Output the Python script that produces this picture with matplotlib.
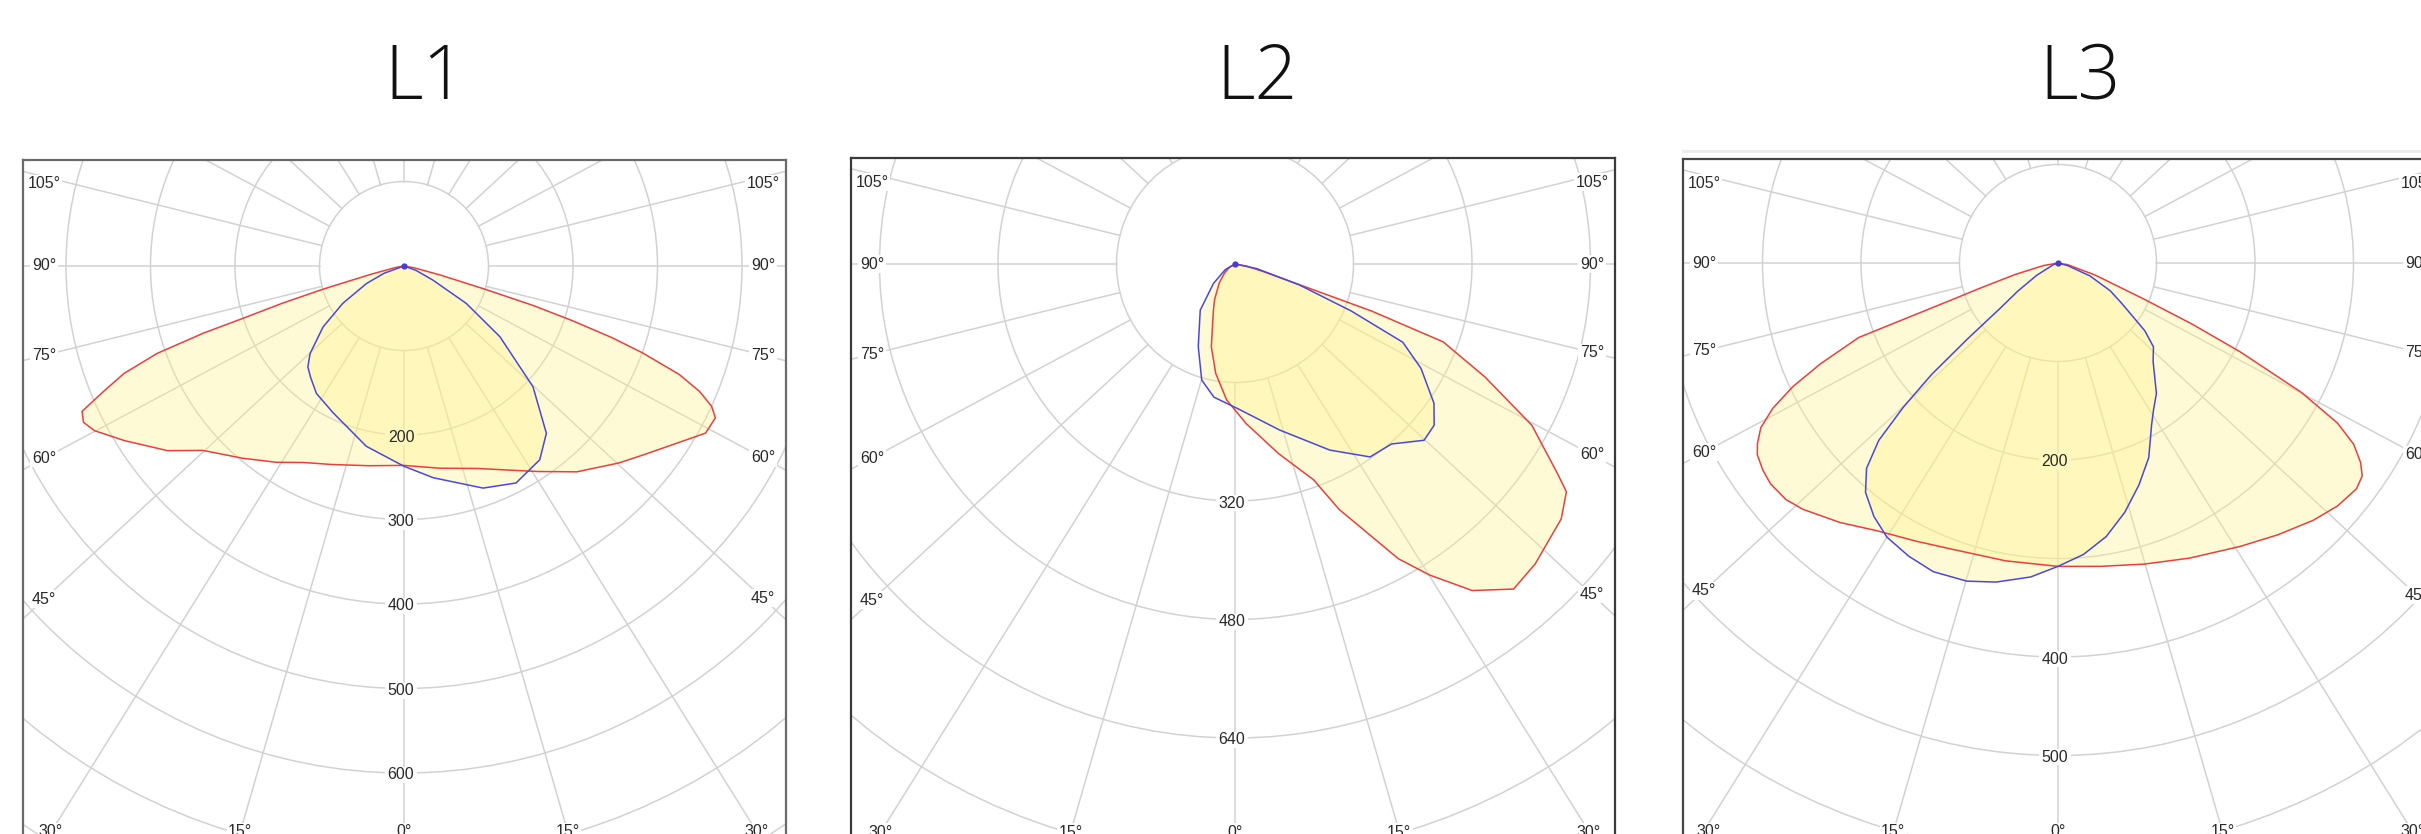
import numpy as np
import matplotlib.pyplot as plt
from matplotlib.patches import Circle, Rectangle
from matplotlib.lines import Line2D

# ---- data (angles in degrees from nadir, negative = left half; values in cd/klm) ----
titles = ['L1', 'L2', 'L3']

l1_red_ang = [-90, -80, -76, -74, -73, -72, -71.5, -70.5, -69, -67.2, -65.7, -64, -62, -58, -52,
              -47.5, -40, -33, -27, -20, -10, 0, 10, 20, 27, 33, 40, 47.5, 52, 57, 61, 64, 65.5,
              67, 68.5, 70, 71, 72, 73, 74, 76, 80, 90]
l1_red_val = [0, 10, 40, 100, 150, 200, 250, 310, 355, 388, 418, 422, 415, 390, 355,
              323, 297, 277, 261, 250, 240, 236, 243, 255, 271, 290, 318, 345, 362, 385, 408, 410, 400,
              380, 350, 300, 260, 210, 160, 100, 45, 12, 0]
l1_blue_ang = [-90, -70, -65, -58.6, -53, -47, -43.6, -40, -34.5, -25.7, -11.8, 0, 7.9, 19.6, 27.3,
               35, 40.4, 46.9, 53.6, 59, 64, 70, 90]
l1_blue_val = [0, 25, 49, 85, 120, 152, 165, 172, 183, 193, 218, 237, 253, 279, 289,
               280, 260, 209, 141, 86, 38, 15, 0]

l2_red_ang = [-90, -60, -50, -40, -30, -25, -16, -10, -3.5, 4, 13, 20, 23, 29, 32, 36, 40.6, 45,
              52, 55.5, 57, 61.5, 65.7, 69.5, 71, 72.2, 75, 80, 90]
l2_red_val = [0, 8, 18, 33, 55, 69, 116, 150, 184, 216, 263, 310, 360, 455, 495, 545, 578, 573,
              559, 543, 519, 456, 370, 300, 195, 92, 40, 15, 0]
l2_blue_ang = [-90, -60, -48, -37, -24, -16, -9, 2, 15, 27, 35, 41, 47, 51, 55, 60.7, 65, 68, 72, 78, 90]
l2_blue_val = [0, 15, 39, 78, 122, 163, 182, 197, 232, 282, 318, 322, 349, 346, 328, 288, 250, 169, 91, 30, 0]

l3_red_ang = [-90, -80, -75, -72, -71, -69.5, -67, -65, -63, -61, -59, -57.5, -55, -52.5, -49, -46,
              -40, -34, -27, -20.5, -10, 0, 8, 16, 24, 32.7, 39, 44.8, 49, 52.9, 55, 56.6, 58.5,
              60.2, 62, 64, 65.5, 67.2, 72, 80, 90]
l3_red_val = [0, 15, 45, 85, 110, 216, 262, 297, 325, 345, 356, 362, 366, 368, 366, 360,
              344, 328, 317, 310, 307, 308, 311, 318, 328, 342, 355, 368, 376, 380, 377, 368, 352,
              327, 280, 206, 150, 95, 40, 10, 0]
l3_blue_ang = [-90, -70, -60, -55, -52, -50, -48.6, -47, -45.3, -43, -40, -36, -32, -27, -22, -16,
               -11, -5, 0, 5, 10, 15, 20, 25, 30, 33, 37, 40, 44, 48.7, 52, 55, 58, 62, 68, 75, 90]
l3_blue_val = [0, 5, 25, 50, 74, 120, 171, 215, 256, 285, 304, 318, 328, 334, 338, 336,
               330, 320, 308, 297, 282, 262, 240, 218, 190, 178, 166, 153, 139, 129, 112, 90, 75,
               60, 35, 10, 0]

l1_rings = [100, 200, 300, 400, 500, 600, 700, 800, 900]
l1_ring_labels = [200, 300, 400, 500, 600]
l2_rings = [160, 320, 480, 640, 800, 960]
l2_ring_labels = [320, 480, 640]
l3_rings = [100, 200, 300, 400, 500, 600, 700, 800]
l3_ring_labels = [200, 400, 500]

side_angles = [105, 90, 75, 60, 45]
bottom_angles = [-30, -15, 0, 15, 30]

# ---- figure layout (pixels) ----
W, H = 2421, 834
fig = plt.figure(figsize=(W / 100, H / 100), dpi=100)

GRID = '#d2d2d2'
FILL = '#fff38a'
RED = '#e8403c'
BLUE = '#4a48dc'
STRETCH = 1.08  # the angle rays of the source diagram are slightly widened


def ray_dir(g):
    t = np.radians(g)
    d = np.array([STRETCH * np.sin(t), -np.cos(t)])
    return d / np.hypot(*d)


def draw_panel(box, center, k, rings, ring_labels, red, blue, edge_color):
    x0, y0, x1, y1 = box
    cx, cy = center
    ax = fig.add_axes([x0 / W, 1 - y1 / H, (x1 - x0) / W, (y1 - y0) / H])
    ax.set_xlim((x0 - cx) / k, (x1 - cx) / k)
    ax.set_ylim((cy - y1) / k, (cy - y0) / k)
    ax.set_xticks([])
    ax.set_yticks([])
    for sp in ax.spines.values():
        sp.set_color(edge_color)
        sp.set_linewidth(1.6)

    # grid
    for v in rings:
        ax.add_patch(Circle((0, 0), v, fill=False, ec=GRID, lw=1.1, zorder=1))
    r1 = rings[0]
    for g in range(0, 360, 15):
        d = ray_dir(g)
        ax.plot([r1 * d[0], 4000 * d[0]], [r1 * d[1], 4000 * d[1]], color=GRID, lw=1.1, zorder=1)

    # ring values: gap in the grid behind each, text on top of the fill
    for v in ring_labels:
        lx, ly = -3 / k, -v - 2 / k
        ax.add_patch(Rectangle((lx - 16 / k, ly - 8 / k), 32 / k, 16 / k,
                               fc='white', ec='none', zorder=2))
        ax.text(lx, ly, str(v), ha='center', va='center', fontsize=11.5,
                family='Liberation Sans', color='#2a2a2a', zorder=6)

    # curves
    for (ang, val), col in ((red, RED), (blue, BLUE)):
        th = np.radians(ang)
        xs = np.asarray(val) * np.sin(th)
        ys = -np.asarray(val) * np.cos(th)
        ax.fill(xs, ys, color=FILL, alpha=0.35, lw=0, zorder=3)
        ax.plot(xs, ys, color=col, lw=1.1, zorder=4)
    ax.plot(0, 0, marker='o', ms=3.5, color='#4a3ad0', zorder=5)

    # angle labels on the frame
    xl, xr = (x0 - cx + 21) / k, (x1 - cx - 23) / k
    ytop = (cy - y0 - 24) / k
    for g in side_angles:
        for xe in (xl, xr):
            ye = -abs(xe) * (np.cos(np.radians(g)) / (STRETCH * np.sin(np.radians(g))))
            ye = min(ye, ytop)
            ax.text(xe, ye, f'{g}°', ha='center', va='center', fontsize=11.5,
                    family='Liberation Sans', color='#2a2a2a', zorder=6,
                    bbox=dict(facecolor='white', edgecolor='none', pad=1))
    yb = (cy - y1 + 23) / k
    for g in bottom_angles:
        t = np.radians(g)
        xe = -yb * STRETCH * np.sin(t) / np.cos(t)
        xe = min(max(xe, (x0 - cx + 26) / k), (x1 - cx - 26) / k)
        ax.text(xe, yb, f'{abs(g)}°', ha='center', va='center', fontsize=11.5,
                family='Liberation Sans', color='#2a2a2a', zorder=6,
                bbox=dict(facecolor='white', edgecolor='none', pad=1))
    return ax


draw_panel((23, 160, 786, 855), (404, 266), 0.845, l1_rings, l1_ring_labels,
           (l1_red_ang, l1_red_val), (l1_blue_ang, l1_blue_val), '#6a6a6a')
draw_panel((851, 158, 1615, 855), (1235, 264), 118.5 / 160, l2_rings, l2_ring_labels,
           (l2_red_ang, l2_red_val), (l2_blue_ang, l2_blue_val), '#3a3a3a')
draw_panel((1683, 159, 2440, 855), (2058, 263), 0.985, l3_rings, l3_ring_labels,
           (l3_red_ang, l3_red_val), (l3_blue_ang, l3_blue_val), '#454545')

# faint line above the third frame (as in the source screenshot)
fig.add_artist(Line2D([1683 / W, 1.0], [1 - 151 / H, 1 - 151 / H], color='#ebebeb', lw=2))

for t, x in zip(titles, (425, 1257, 2080)):
    fig.text(x / W, 1 - 79 / H, t, ha='center', va='center', fontsize=54,
             family='Open Sans', fontweight='light', color='#111111')

fig.savefig('out.png', dpi=100)
